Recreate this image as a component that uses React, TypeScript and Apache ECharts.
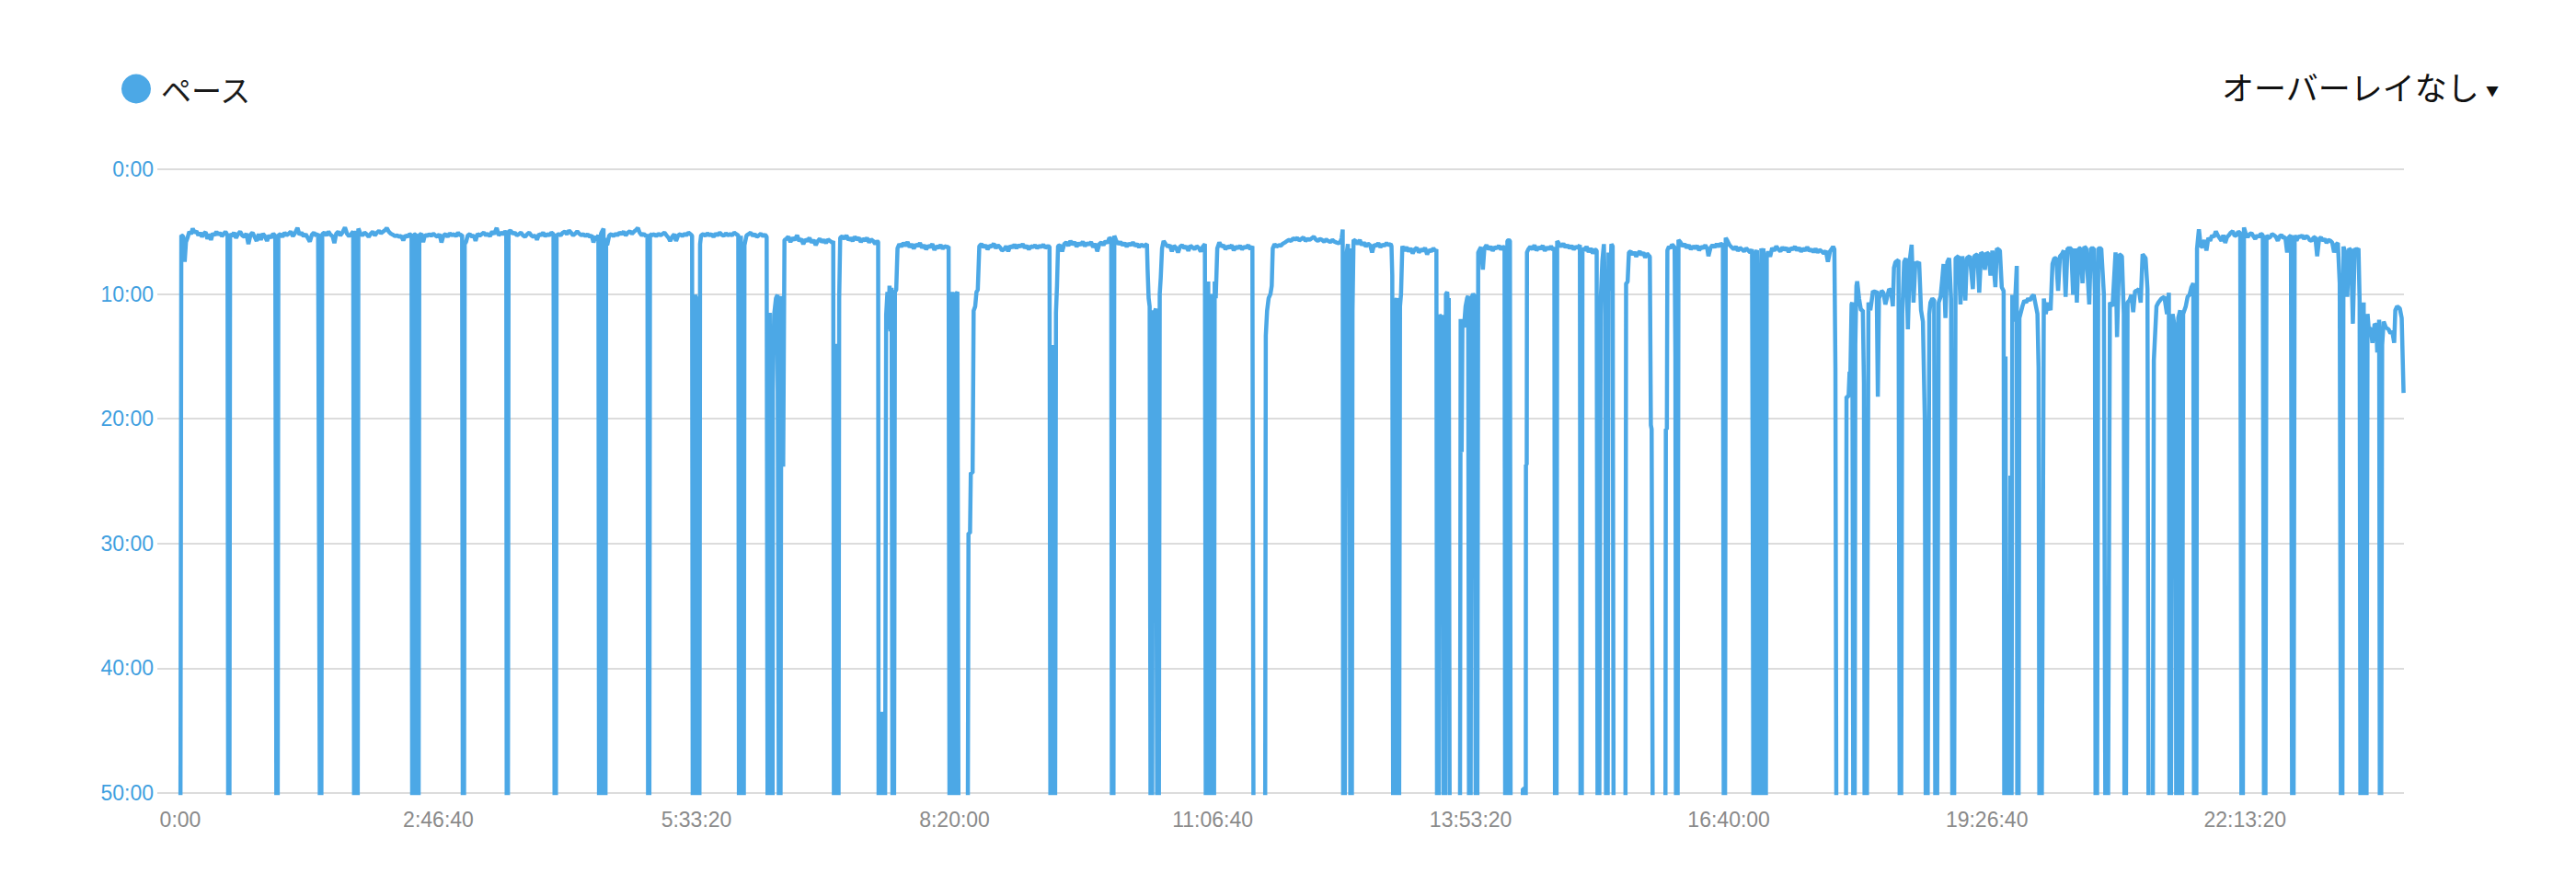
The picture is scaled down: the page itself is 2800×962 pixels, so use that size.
import React, { useEffect, useRef } from "react";
import * as echarts from "echarts";

// x: elapsed seconds, y: pace in seconds per km (axis floor 50:00; stops read as 60:00 and are clipped)
const xTickValues = [0, 10000, 20000, 30000, 40000, 50000, 60000, 70000, 80000];
const yTickValues = [0, 600, 1200, 1800, 2400, 3000];
const seriesName = "ペース";
const overlayLabel = "オーバーレイなし";

const segA: [number, number][] = [
  [0,3600],[40,318],[110,322],[170,445],[220,350],[280,330],[350,300],[420,312],[480,285],[560,305],[630,298],[700,318],[770,305],[840,325],[910,310],[980,302],[1050,335],[1120,312],[1190,340],[1260,308],[1330,318],[1400,300],[1470,315],[1540,305],[1610,322],[1680,312],[1750,300],[1830,318],
  [1860,3600],[1900,3600],[1930,310],
  [2000,322],[2080,305],[2160,330],[2240,312],[2320,300],[2400,318],[2480,325],[2560,310],[2640,360],[2720,315],[2800,305],[2880,325],[2960,345],[3040,312],[3120,340],[3200,310],[3280,322],[3360,345],[3440,318],[3520,330],[3600,310],[3680,320],
  [3730,3600],[3770,3600],[3800,318],
  [3880,312],[3960,325],[4040,305],[4120,318],[4200,310],[4280,300],[4360,322],[4440,308],[4540,282],[4620,315],[4700,305],[4780,322],[4860,312],[4940,330],[5020,348],[5100,315],[5180,305],[5260,320],[5340,310],
  [5420,3600],[5460,3600],[5500,312],
  [5580,305],[5660,318],[5740,300],[5820,315],[5900,322],[5970,355],[6040,310],[6120,300],[6200,318],[6280,305],[6380,280],[6460,310],[6540,322],[6620,312],[6700,300],
  [6740,3600],[6780,3600],[6800,295],[6830,3600],[6870,3600],[6900,285],
  [6980,310],[7060,318],[7140,305],[7220,312],[7300,325],[7380,310],[7460,300],[7540,318],[7620,305],[7700,296],[7780,308],[7860,300],[7940,292],[8000,282],[8080,300],[8160,310],[8240,315],[8320,322],[8400,318],[8480,325],[8560,320],[8640,342],[8720,318],[8800,325],[8880,312],[8960,318],
  [8990,3600],[9030,3600],[9060,315],[9130,312],[9190,3600],[9230,3600],[9260,318],
  [9340,310],[9410,350],[9480,315],[9560,322],[9640,312],[9720,320],[9800,310],[9880,318],[9960,325],[10040,312],[10120,352],[10200,318],[10280,312],[10360,325],[10440,308],[10520,318],[10600,312],[10680,322],[10760,305],[10840,318],[10920,315],
  [10950,3600],[10990,3600],[11020,360],[11070,350],
  [11140,318],[11220,312],[11300,325],[11380,318],[11440,345],[11520,310],[11600,320],[11680,312],[11760,305],[11840,318],[11920,310],[12000,322],[12080,300],[12160,312],[12260,282],[12340,318],[12420,305],[12500,312],[12580,300],[12630,305],
  [12650,3600],[12690,3600],[12720,300],
  [12800,295],[12880,310],[12960,305],[13040,318],[13120,312],[13200,305],[13280,318],[13360,325],[13440,312],[13520,305],[13600,318],[13680,325],[13760,318],[13820,340],[13900,312],[13980,318],[14060,305],[14140,322],[14220,312],[14300,318],[14380,305],[14460,312],
  [14510,3600],[14550,3600],[14580,318],
  [14660,312],[14740,318],[14820,305],[14900,300],[14980,312],[15060,295],[15140,305],[15220,318],[15300,310],[15380,298],[15460,310],[15540,318],[15620,312],[15700,322],[15780,312],[15860,325],[15940,318],[16010,352],[16080,322],[16160,340],[16200,315],
  [16230,3600],[16270,3600],[16300,310],[16400,285],[16430,3600],[16470,3600],[16500,330],[16540,365],
  [16620,318],[16700,312],[16780,322],[16860,310],[16940,318],[17020,305],[17100,312],[17180,300],[17260,318],[17340,305],[17420,298],[17500,310],[17580,300],[17660,292],[17730,282],[17800,305],[17880,318],[17960,310],[18040,322],[18100,315],
  [18130,3600],[18170,3600],[18200,312],
  [18280,318],[18360,312],[18440,322],[18520,310],[18600,318],[18680,312],[18760,305],[18840,318],[18920,330],[18980,345],[19060,325],[19140,312],[19210,345],[19290,318],[19370,312],[19450,322],[19530,310],[19610,318],[19690,305],[19770,312],[19830,320],
  [19860,3600],[19910,3600],[19940,605],[19990,620],[20050,3600],[20110,3600],[20140,360],[20180,318],
  [20260,312],[20340,320],[20420,308],[20500,318],[20580,312],[20660,325],[20740,310],[20820,318],[20900,305],[20980,315],[21060,320],[21140,308],[21220,318],[21300,312],[21380,318],[21460,305],[21540,312],[21620,318],
  [21650,3600],[21690,3600],[21720,320],[21790,3600],[21830,3600],[21860,365],
  [21940,318],[22020,312],[22100,305],[22180,320],[22260,312],[22340,325],[22420,318],[22500,310],[22580,322],[22660,315],[22720,325],
  [22760,3600],[22800,3600],[22840,690],[22900,3600],[22950,3600],[22960,1070],[23010,700],[23080,620],[23140,604],[23200,3600],[23250,3600],[23290,610],[23360,1430],[23410,340],
];

const segB: [number, number][] = [
  [23480,335],[23560,325],[23640,350],[23720,330],[23800,340],[23900,318],[23980,345],[24060,335],[24140,360],[24220,338],[24300,345],[24380,330],[24460,352],[24540,340],[24620,365],[24700,345],[24780,335],[24860,350],[24940,340],[25020,355],[25100,338],[25180,345],[25260,352],
  [25300,345],[25330,3600],[25380,3600],[25420,840],[25460,3600],[25500,3600],[25530,620],[25570,330],
  [25650,322],[25730,335],[25810,318],[25890,340],[25970,330],[26050,345],[26130,325],[26210,338],[26290,330],[26370,350],[26450,335],[26530,342],[26610,330],[26690,352],[26770,338],[26850,345],[26930,360],[27000,345],[27040,350],
  [27060,3600],[27110,3600],[27175,2610],[27240,3600],[27300,3600],[27350,700],[27400,590],[27440,770],[27480,560],[27520,780],[27560,570],[27600,3600],[27650,3600],[27690,590],[27740,580],[27790,380],
  [27860,360],[27940,372],[28020,355],[28100,368],[28180,350],[28260,375],[28340,360],[28420,382],[28500,362],[28580,370],[28660,355],[28740,378],[28820,365],[28900,385],[28980,368],[29060,375],[29140,360],[29220,388],[29300,370],[29380,378],[29460,365],[29540,382],[29620,370],[29700,375],[29770,372],
  [29810,3600],[29860,3600],[29920,590],[29960,3600],[30010,3600],[30060,600],[30110,590],[30160,3600],[30505,3600],[30540,1750],[30600,1750],[30630,1460],[30700,1460],[30740,680],[30800,660],[30850,590],[30900,580],[30960,370],
  [31040,360],[31120,375],[31200,365],[31280,385],[31360,368],[31440,372],[31520,358],[31600,380],[31680,365],[31760,375],[31840,390],[31920,385],[32000,370],[32080,395],[32160,368],[32240,378],[32320,362],[32400,380],[32480,365],[32560,372],[32640,360],[32720,378],[32800,368],[32880,385],[32960,370],[33040,375],[33120,365],[33200,380],[33280,368],[33360,375],[33440,362],[33520,378],[33600,370],[33680,372],
  [33720,3600],[33770,3600],[33800,845],[33850,3600],[33890,3600],[33930,690],[33970,560],[34010,370],
];

const segC: [number, number][] = [
  [34090,365],[34170,395],[34250,360],[34330,352],[34410,368],[34490,345],[34570,362],[34650,350],[34730,372],[34810,355],[34890,365],[34970,348],[35050,370],[35130,355],[35210,362],[35290,350],[35370,375],[35450,358],[35530,395],[35610,360],[35690,352],[35770,365],[35850,345],[35930,355],[36000,330],[36070,335],
  [36100,3600],[36150,3600],[36190,320],
  [36270,345],[36350,360],[36430,350],[36510,365],[36590,355],[36670,372],[36750,358],[36830,365],[36910,352],[36990,368],[37070,360],[37150,375],[37230,362],[37310,370],[37390,365],[37455,360],
  [37480,480],[37520,620],[37560,660],[37600,3600],[37650,3600],[37690,680],[37740,690],[37800,670],[37860,3600],[37910,3600],[37950,600],[37990,520],[38040,380],[38100,345],
  [38180,360],[38260,372],[38340,365],[38420,395],[38500,368],[38580,378],[38660,400],[38740,372],[38820,365],[38900,380],[38980,370],[39060,392],[39140,368],[39220,375],[39300,385],[39380,370],[39460,378],[39540,395],[39620,372],[39700,360],
  [39740,3600],[39790,3600],[39830,540],[39880,3600],[39920,3600],[39960,600],[40000,3600],[40050,3600],[40080,540],[40120,620],[40180,380],
  [40260,352],[40340,372],[40420,365],[40500,385],[40580,370],[40660,378],[40740,365],[40820,390],[40900,372],[40980,380],[41060,368],[41140,385],[41220,372],[41300,378],[41380,365],[41460,385],[41540,370],
  [41590,3600],[41640,3600],[42030,3600],[42060,800],[42110,680],[42170,620],[42240,600],[42290,560],[42330,380],[42400,360],
  [42480,372],[42560,365],[42640,368],[42720,358],[42800,352],[42880,345],[42960,340],[43040,345],[43120,332],[43200,338],[43280,330],[43360,342],[43440,335],[43520,328],[43600,345],[43680,335],[43760,340],[43840,332],[43920,325],[44000,338],[44080,345],[44160,335],[44240,340],[44320,348],[44400,338],[44480,345],[44560,350],[44640,340],[44720,348],[44800,352],[44880,355],[44950,350],[45000,330],[45040,290],
  [45060,3600],[45110,3600],[45170,720],[45200,400],[45240,360],[45280,715],[45300,380],[45340,3600],[45390,3600],[45420,680],[45460,340],
  [45540,345],[45620,360],[45700,340],[45780,365],[45860,352],[45940,372],[46020,358],[46100,365],[46180,400],[46260,362],[46340,370],[46420,355],[46500,375],[46580,362],[46660,368],[46740,355],[46820,365],[46900,360],
  [46930,370],[46960,510],[47000,3600],[47050,3600],[47090,640],[47130,620],[47170,3600],[47220,3600],[47260,660],[47300,600],[47350,370],
  [47430,392],[47510,375],[47590,395],[47670,380],[47750,405],[47830,385],[47910,378],[47990,400],[48070,385],[48150,392],[48230,378],[48310,410],[48390,388],[48470,395],[48550,380],[48630,392],[48670,385],
  [48700,3600],[48750,3600],[48790,700],[48840,710],[48880,800],[48910,700],[48950,3600],[49000,3600],[49040,600],[49090,590],[49120,680],[49150,620],[49190,3600],[49580,3600],[49610,720],[49650,1360],[49680,740],[49740,760],[49800,660],[49860,620],[49900,610],[49940,3600],[49990,3600],[50030,620],[50090,600],[50150,610],[50200,3600],[50250,3600],[50290,400],[50330,390],
  [50400,375],[50470,483],[50530,380],[50610,365],[50690,385],[50770,372],[50850,392],[50930,375],[51010,380],[51090,368],[51170,385],[51250,372],[51310,378],
  [51340,3600],[51390,3600],[51420,345],[51480,340],[51520,345],[51550,3600],[52000,3600],[52020,2980],[52050,2980],[52070,3600],[52130,3600],[52140,1420],[52170,1420],[52180,400],[52230,385],
];

const segD: [number, number][] = [
  [52310,372],[52390,385],[52470,365],[52550,390],[52630,375],[52710,382],[52790,368],[52870,392],[52950,375],[53030,385],[53110,370],[53190,388],[53240,375],
  [53270,3600],[53320,3600],[53350,345],
  [53430,360],[53510,372],[53590,358],[53670,375],[53750,365],[53830,380],[53910,368],[53990,385],[54070,372],[54150,378],[54230,365],
  [54260,3600],[54300,3600],[54330,380],
  [54410,390],[54490,372],[54570,398],[54650,380],[54730,405],[54810,385],[54880,392],
  [54920,3600],[54970,3600],[55040,620],[55100,440],[55160,360],[55210,696],[55250,3600],[55300,3600],[55340,400],[55400,585],[55450,360],[55500,370],[55540,3600],[55990,3600],[56020,550],[56080,540],[56130,400],
  [56200,395],[56270,410],[56340,398],[56410,420],[56480,405],[56550,395],[56620,412],[56690,400],[56760,425],[56830,405],[56900,415],
  [56940,420],[56980,1230],[57010,1250],[57060,3600],[57540,3600],[57560,1250],[57600,1250],[57620,390],[57680,372],[57740,380],[57800,362],[57860,370],[57900,375],[57930,900],[57960,3600],[58010,3600],[58050,340],
  [58130,352],[58210,370],[58290,360],[58370,378],[58450,365],[58530,385],[58610,370],[58690,380],[58770,368],[58850,390],[58930,372],[59010,380],[59090,365],[59170,385],[59210,418],[59290,378],[59370,365],[59450,375],[59530,360],[59610,372],[59690,358],[59770,365],
  [59810,3600],[59850,3600],[59880,330],
  [59950,345],[60030,365],[60110,375],[60190,385],[60270,372],[60350,392],[60430,378],[60510,385],[60590,395],[60670,380],[60750,390],[60830,400],[60900,385],
  [60930,1780],[60960,3600],[61010,3600],[61040,400],[61090,390],[61130,700],[61170,3600],[61220,3600],[61260,380],[61300,600],[61340,380],[61380,3600],[61430,3600],[61470,420],[61520,395],
  [61600,420],[61680,378],[61760,392],[61840,370],[61920,385],[62000,395],[62080,375],[62160,388],[62240,378],[62320,398],[62400,380],[62480,385],[62560,372],[62640,390],[62720,378],[62800,395],[62880,382],[62960,390],[63040,375],[63120,392],[63200,385],[63280,398],[63360,382],[63440,400],[63520,388],[63600,395],[63680,405],[63760,392],[63840,445],[63920,395],[64000,380],[64040,372],[64090,385],
];

const segE: [number, number][] = [
  [64131,956],[64174,3600],[64538,3600],[64560,1094],[64640,1094],[64680,974],[64713,974],[64756,650],[64785,641],[64829,3600],[64873,3600],[64902,844],[64945,560],[64975,539],[65047,622],[65120,678],[65193,678],[65236,1030],[65266,3600],[65338,3600],[65411,641],[65484,678],[65527,641],[65586,585],[65673,594],[65731,585],[65775,1094],[65818,622],[65920,585],[65993,594],[66066,650],[66139,613],[66211,576],[66284,585],[66357,659],[66400,474],[66459,446],[66575,437],[66630,3600],[66670,3600],[66721,696],[66793,446],[66866,428],[66939,770],[67012,437],[67084,363],[67157,641],[67230,446],[67303,456],[67375,446],[67448,678],[67521,733],[67594,1206],[67640,3600],[67690,3600],[67768,696],[67812,641],[67885,622],[67957,631],[68010,3600],[68060,3600],[68132,641],[68205,613],[68263,539],[68321,456],[68394,715],[68467,446],[68539,428],[68612,622],[68670,3600],[68720,3600],[68787,428],[68903,418],[68976,650],[69049,418],[69165,631],[69223,428],[69340,418],[69456,576],[69514,418],[69631,409],[69703,594],[69776,400],[69849,409],[69922,483],[69994,400],[70067,409],[70140,511],[70213,391],[70329,567],[70387,381],[70504,391],[70576,567],[70649,585],[70678,3600],[70722,900],[70760,3600],[70867,3600],[70911,1474],[70950,3600],[70984,604],[71056,733],[71158,465],[71180,3600],[71220,3600],[71260,715],[71377,659],[71449,631],[71522,641],[71595,622],[71668,631],[71740,613],[71813,604],[71886,650],[71959,696],[72002,956],[72040,3600],[72110,3600],[72206,622],[72279,696],[72366,641],[72468,678],[72541,456],[72613,428],[72686,428],[72759,585],[72832,418],[72904,409],[72977,391],[73050,613],[73123,381],[73268,381],[73341,604],[73414,381],[73486,641],[73559,381],[73632,381],[73705,548],[73777,372],[73850,381],[73966,650],[74025,381],[74141,381],[74185,604],[74215,3600],[74260,3600],[74316,381],[74432,381],[74534,604],[74600,3600],[74680,3600],[74767,641],[74869,659],[74985,400],[75043,807],[75130,409],[75232,418],[75305,696],[75335,3600],[75375,3600],[75451,641],[75523,631],[75596,604],[75669,687],[75742,585],[75815,585],[75887,576],[75960,641],[76033,409],[76149,428],[76222,576],[76270,3600],[76420,3600],[76469,919],[76571,659],[76644,641],[76760,622],[76876,613],[76978,696],[77051,594],[77080,3600],[77120,3600],[77197,696],[77269,752],[77313,770],[77340,3600],[77380,3600],[77415,715],[77488,678],[77515,3600],[77555,3600],[77604,696],[77706,659],[77779,613],[77851,604],[77924,567],[77997,548],[78030,3600],[78110,3600],
];

const segF: [number, number][] = [
  [78142,381],[78215,289],[78288,372],[78361,372],[78430,340],[78506,391],[78580,330],[78652,344],[78720,318],[78797,326],[78870,298],[78943,317],[79010,330],[79088,344],[79161,317],[79234,354],[79306,326],[79379,317],[79450,305],[79525,298],[79600,320],[79670,317],[79740,300],[79816,307],[79870,3600],[79910,3600],[79961,280],[80030,310],[80107,326],[80180,312],[80252,307],[80325,322],[80398,335],[80470,318],[80543,326],[80615,310],[80689,317],[80745,3600],[80785,3600],[80834,317],[80905,330],[80980,326],[81050,312],[81125,317],[81200,325],[81271,344],[81345,322],[81416,317],[81490,330],[81562,326],[81634,400],[81707,326],[81780,318],[81835,3600],[81875,3600],[81925,317],[81998,344],[82070,322],[82144,326],[82215,318],[82289,335],[82360,322],[82435,326],[82505,340],[82580,344],[82650,330],[82726,326],[82798,418],[82871,335],[82945,328],[83017,344],[83090,335],[83162,354],[83235,340],[83308,344],[83380,352],[83453,400],[83526,363],[83599,354],[83671,548],[83725,3600],[83765,3600],[83817,372],[83890,400],[83962,613],[84035,381],[84108,391],[84181,743],[84253,381],[84325,390],[84399,381],[84442,631],[84480,3600],[84530,3600],[84600,641],[84650,3600],[84700,3600],[84750,696],[84792,761],[84879,770],[84937,835],[85024,743],[85083,752],[85126,881],[85199,724],[85230,3600],[85270,3600],[85315,844],[85374,733],[85461,761],[85563,770],[85636,789],[85708,780],[85781,835],[85825,678],[85897,659],[85999,669],[86072,715],[86145,1076],
];

const paceData: [number, number][] = [...segA, ...segB, ...segC, ...segD, ...segE, ...segF];

const fmtPace = (v: number) => `${Math.floor(v / 60)}:${String(Math.round(v % 60)).padStart(2, "0")}`;
const pad2 = (n: number) => String(n).padStart(2, "0");
const fmtTime = (v: number) => {
  if (v === 0) return "0:00";
  const h = Math.floor(v / 3600);
  const m = Math.floor((v % 3600) / 60);
  const s = Math.round(v % 60);
  return `${h}:${pad2(m)}:${pad2(s)}`;
};

const BLUE = "#4ca8e6";
const LABEL_FONT = "'Liberation Sans', Arial, sans-serif";
const CJK_FONT = "'Noto Sans CJK JP', 'Noto Sans', sans-serif";

export default function App() {
  const ref = useRef<HTMLDivElement>(null);
  useEffect(() => {
    if (!ref.current) return;
    const chart = echarts.init(ref.current, undefined, { renderer: "svg" });
    chart.setOption({
      animation: false,
      backgroundColor: "#ffffff",
      grid: { left: 171, right: 187, top: 184, bottom: 100 },
      legend: {
        data: [seriesName],
        left: 132,
        top: 80,
        padding: 0,
        icon: "circle",
        itemWidth: 32,
        itemHeight: 32,
        selectedMode: false,
        textStyle: { fontSize: 33, color: "#1a1a1a", fontFamily: CJK_FONT, padding: [0, 0, 0, 6] },
      },
      graphic: [
        {
          type: "text",
          right: 105,
          top: 76,
          style: { text: overlayLabel, fontSize: 35, fill: "#111111", fontFamily: CJK_FONT },
        },
        {
          type: "text",
          left: 2702,
          top: 91,
          style: { text: "▼", fontSize: 14, fill: "#111111", fontFamily: CJK_FONT },
        },
      ],
      xAxis: {
        type: "value",
        min: -890,
        max: 86160,
        axisLine: { show: false },
        axisTick: { show: false },
        splitLine: { show: false },
        axisLabel: {
          customValues: xTickValues,
          formatter: (v: number) => fmtTime(v),
          color: "#8a8a8a",
          fontSize: 23,
          fontFamily: LABEL_FONT,
          margin: 17,
        },
      },
      yAxis: {
        type: "value",
        inverse: true,
        min: 0,
        max: 3000,
        interval: 600,
        axisLine: { show: false },
        axisTick: { show: false },
        splitLine: { lineStyle: { color: "#dcdcdc", width: 2 } },
        axisLabel: {
          customValues: yTickValues,
          formatter: (v: number) => fmtPace(v),
          color: "#3f9fe0",
          fontSize: 23,
          fontFamily: LABEL_FONT,
          margin: 4,
        },
      },
      series: [
        {
          name: seriesName,
          type: "line",
          data: paceData,
          showSymbol: false,
          symbol: "none",
          color: BLUE,
          lineStyle: { color: BLUE, width: 4.5 },
          clip: true,
        },
      ],
    });
    return () => chart.dispose();
  }, []);
  return (
    <div
      ref={ref}
      style={{ position: "fixed", left: 0, top: 0, width: "2800px", height: "962px", background: "#fff" }}
    />
  );
}
